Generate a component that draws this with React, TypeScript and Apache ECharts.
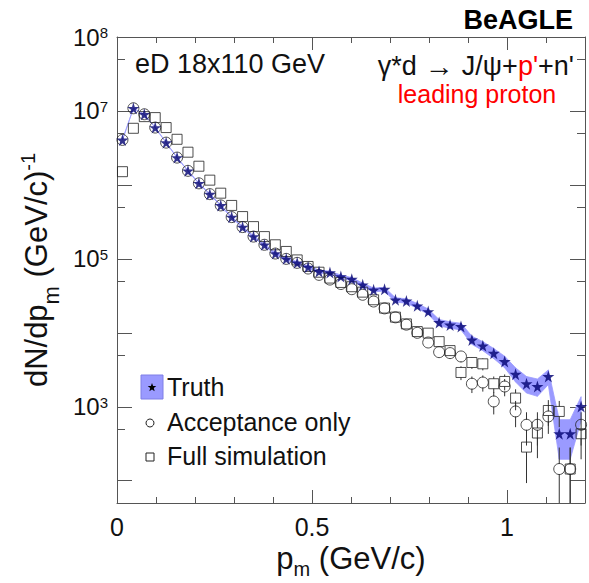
import React, { useEffect, useRef } from 'react';
import * as echarts from 'echarts';

// bin centres (GeV/c)
const pm = [0.014, 0.042, 0.070, 0.098, 0.126, 0.154, 0.182, 0.210, 0.238, 0.266, 0.294, 0.322, 0.350, 0.378, 0.406, 0.434, 0.462, 0.490, 0.518, 0.546, 0.574, 0.602, 0.630, 0.658, 0.686, 0.714, 0.742, 0.770, 0.798, 0.826, 0.854, 0.882, 0.910, 0.938, 0.966, 0.994, 1.022, 1.050, 1.078, 1.106, 1.134, 1.162, 1.190];

const truth = [4.06e6, 1.087e7, 9.02e6, 5.96e6, 3.73e6, 2.34e6, 1.55e6, 1.05e6, 7.5e5, 5.28e5, 3.67e5, 2.69e5, 2.0e5, 1.55e5, 1.18e5, 1.0e5, 8.83e4, 7.73e4, 6.75e4, 6.53e4, 5.77e4, 5.32e4, 4.46e4, 3.81e4, 3.89e4, 2.79e4, 2.70e4, 2.32e4, 1.94e4, 1.38e4, 1.28e4, 1.22e4, 8.0e3, 6.67e3, 5.31e3, 4.10e3, 2.76e3, 2.05e3, 1.88e3, 2.57e3, 432, 432, 1009];
const truthErr = [22978, 37590, 34240, 27835, 22020, 17441, 14195, 11683, 9874, 8285, 6907, 5913, 5099, 4489, 3917, 3606, 3388, 3170, 2962, 2914, 2739, 2630, 2408, 2226, 2249, 1904, 1873, 1737, 1588, 1339, 1290, 1259, 1020, 931, 831, 730, 599, 516, 494, 578, 237, 237, 362];

const accept = [4.06e6, 1.087e7, 9.02e6, 5.96e6, 3.73e6, 2.34e6, 1.55e6, 1.05e6, 7.5e5, 5.28e5, 3.67e5, 2.69e5, 2.0e5, 1.55e5, 1.18e5, 1.0e5, 8.83e4, 7.4e4, 6.08e4, 5.25e4, 4.57e4, 3.89e4, 3.27e4, 2.65e4, 2.14e4, 1.62e4, 1.29e4, 1.0e4, 7.4e3, 5.48e3, 5.32e3, 4.79e3, 2.05e3, 2.13e3, 1.18e3, 1.88e3, 865, 571, 571, 740, 144, 144, 571];
const acceptErr = [22978, 37590, 34240, 27835, 22020, 17441, 14195, 11683, 9874, 8285, 6907, 5913, 5099, 4489, 3917, 3606, 3388, 3102, 2811, 2612, 2437, 2249, 2062, 1856, 1668, 1451, 1295, 1140, 981, 844, 832, 789, 516, 526, 392, 494, 335, 272, 272, 310, 137, 137, 272];

const full = [1.51e6, 5.83e6, 8.38e6, 8.13e6, 5.96e6, 4.14e6, 2.77e6, 1.79e6, 1.16e6, 7.73e5, 5.28e5, 3.73e5, 2.73e5, 2.0e5, 1.55e5, 1.26e5, 9.68e4, 7.9e4, 6.6e4, 5.5e4, 4.8e4, 4.2e4, 3.55e4, 2.8e4, 2.16e4, 1.63e4, 1.32e4, 1.04e4, 9.9e3, 7.6e3, 5.75e3, 2.91e3, 3.97e3, 3.81e3, 2.05e3, 2.2e3, 1.31e3, 285, 442, 891, 865, 144, 432];
const fullErr = [14011, 27530, 33006, 32510, 27835, 23199, 18976, 15254, 12280, 10024, 8285, 6963, 5957, 5099, 4489, 4047, 3547, 3205, 2929, 2674, 2498, 2337, 2148, 1908, 1676, 1456, 1310, 1163, 1134, 994, 865, 615, 718, 704, 516, 535, 413, 192, 240, 340, 335, 137, 237];

// axes
const xMin = 0;
const xMax = 1.2;
const xMajorTicks = [0, 0.5, 1];
const xMinorTicks = [0.1, 0.2, 0.3, 0.4, 0.6, 0.7, 0.8, 0.9, 1.1];
const yMinValue = 50;
const yMaxValue = 1e8;
const yDecadeTicks = [1e2, 1e3, 1e4, 1e5, 1e6, 1e7, 1e8];
const yLabelValues = [1e3, 1e5, 1e7, 1e8];
const yFiveTicks = [5e2, 5e3, 5e4, 5e5, 5e6, 5e7];

const legendNames = ['Truth', 'Acceptance only', 'Full simulation'];

const FONT = '"Liberation Sans", Arial, Helvetica, sans-serif';
const AX = '#555';
const TXT = '#111';
const BAND = '#9a9aff';
const L = (v: number) => Math.log10(v);
const STAR = 'path://M50,0 L61,35 L98,35 L68,57 L79,91 L50,70 L21,91 L32,57 L2,35 L39,35 Z';

function starPoints(cx: number, cy: number, R: number) {
  const pts: number[][] = [];
  for (let i = 0; i < 10; i++) {
    const r = i % 2 === 0 ? R : R * 0.42;
    const a = -Math.PI / 2 + (i * Math.PI) / 5;
    pts.push([cx + r * Math.cos(a), cy + r * Math.sin(a)]);
  }
  return pts;
}

const yTitleRich = {
  m: { fontSize: 31, lineHeight: 31, padding: [3, 0, 0, 0], verticalAlign: 'top', fontFamily: FONT, color: TXT },
  sb: { fontSize: 22, lineHeight: 22, padding: [22, 0, 0, 0], verticalAlign: 'top', fontFamily: FONT, color: TXT },
  sp: { fontSize: 20, lineHeight: 20, verticalAlign: 'top', fontFamily: FONT, color: TXT },
};
const xTitleRich = {
  m: { fontSize: 31, lineHeight: 31, verticalAlign: 'top', fontFamily: FONT, color: TXT },
  sb: { fontSize: 20, lineHeight: 20, padding: [16, 0, 0, 0], verticalAlign: 'top', fontFamily: FONT, color: TXT },
};

export default function App() {
  const ref = useRef<HTMLDivElement>(null);
  useEffect(() => {
    if (!ref.current) return;
    const chart = echarts.init(ref.current, undefined, { renderer: 'svg' });

    const xBase: any = {
      type: 'value', min: xMin, max: xMax, gridIndex: 0,
      splitLine: { show: false },
      axisLine: { show: false, onZero: false },
      axisLabel: { show: false },
      axisTick: { show: false },
    };
    const yBase: any = {
      type: 'value', min: L(yMinValue), max: L(yMaxValue), gridIndex: 0,
      splitLine: { show: false },
      axisLine: { show: false, onZero: false },
      axisLabel: { show: false },
      axisTick: { show: false },
    };
    const axLine = { show: true, onZero: false, lineStyle: { color: AX, width: 1 } };
    const tickStyle = { color: AX, width: 1 };

    const lo = truth.map((v, i) => L(Math.max(v - truthErr[i], 1)));
    const hi = truth.map((v, i) => L(v + truthErr[i]));
    const bandData = pm.slice(0, -1).map((x, i) => [x, lo[i], hi[i], pm[i + 1], lo[i + 1], hi[i + 1]]);

    const bandRender = (params: any, api: any) => {
      const p1 = api.coord([api.value(0), api.value(1)]);
      const p2 = api.coord([api.value(0), api.value(2)]);
      const p3 = api.coord([api.value(3), api.value(5)]);
      const p4 = api.coord([api.value(3), api.value(4)]);
      return {
        type: 'polygon',
        shape: { points: [p1, p2, p3, p4] },
        style: { fill: BAND, stroke: BAND, lineWidth: 0.8 },
      };
    };

    const errData = (vals: number[], errs: number[]) =>
      pm.map((x, i) => [x, L(vals[i]), L(Math.max(vals[i] - errs[i], 1)), L(vals[i] + errs[i])]);

    const errRender = (params: any, api: any) => {
      const x = api.value(0);
      const c = api.coord([x, api.value(1)]);
      const b = api.coord([x, api.value(2)]);
      const t = api.coord([x, api.value(3)]);
      const gap = 5;
      const children: any[] = [];
      if (c[1] - t[1] > gap) children.push({ type: 'line', shape: { x1: c[0], y1: t[1], x2: c[0], y2: c[1] - gap }, style: { stroke: '#333', lineWidth: 1 } });
      if (b[1] - c[1] > gap) children.push({ type: 'line', shape: { x1: c[0], y1: c[1] + gap, x2: c[0], y2: b[1] }, style: { stroke: '#333', lineWidth: 1 } });
      return { type: 'group', children };
    };

    const option: any = {
      animation: false,
      backgroundColor: '#fff',
      textStyle: { fontFamily: FONT },
      grid: { left: 117, right: 4, top: 37, bottom: 80, containLabel: false, outerBoundsMode: 'none' },
      xAxis: [
        {
          ...xBase, position: 'bottom', axisLine: axLine,
          axisTick: { show: true, inside: true, length: 13, customValues: xMajorTicks, lineStyle: tickStyle },
          axisLabel: { show: true, customValues: xMajorTicks, margin: 11, fontSize: 25, lineHeight: 25, color: TXT, fontFamily: FONT, formatter: (v: number) => String(v) },
          name: '{m|p}{sb|m}{m| (GeV/c)}', nameLocation: 'middle', nameGap: 40, nameMoveOverlap: false,
          nameTextStyle: { rich: xTitleRich },
        },
        { ...xBase, position: 'bottom', axisTick: { show: true, inside: true, length: 6, customValues: xMinorTicks, lineStyle: tickStyle } },
        { ...xBase, position: 'top', axisLine: axLine, axisTick: { show: true, inside: true, length: 13, customValues: xMajorTicks, lineStyle: tickStyle } },
        { ...xBase, position: 'top', axisTick: { show: true, inside: true, length: 6, customValues: xMinorTicks, lineStyle: tickStyle } },
      ],
      yAxis: [
        {
          ...yBase, position: 'left', axisLine: axLine,
          axisTick: { show: true, inside: true, length: 15, customValues: yDecadeTicks.map(L), lineStyle: tickStyle },
          axisLabel: {
            show: true, customValues: yLabelValues.map(L), margin: 9,
            formatter: (v: number) => `{b|10}{s|${Math.round(v)}}`,
            rich: {
              b: { fontSize: 24, lineHeight: 24, verticalAlign: 'bottom', fontFamily: FONT, color: TXT },
              s: { fontSize: 15, lineHeight: 15, padding: [0, 0, 14, 0], verticalAlign: 'top', fontFamily: FONT, color: TXT },
            },
          },
          name: '{m|dN/dp}{sb|m}{m| (GeV/c)}{sp|-1}', nameLocation: 'middle', nameGap: 52, nameRotate: 90,
          nameTextStyle: { rich: yTitleRich },
        },
        { ...yBase, position: 'left', axisTick: { show: true, inside: true, length: 8, customValues: yFiveTicks.map(L), lineStyle: tickStyle } },
        { ...yBase, position: 'right', axisLine: axLine, axisTick: { show: true, inside: true, length: 15, customValues: yDecadeTicks.map(L), lineStyle: tickStyle } },
        { ...yBase, position: 'right', axisTick: { show: true, inside: true, length: 8, customValues: yFiveTicks.map(L), lineStyle: tickStyle } },
      ],
      series: [
        { type: 'custom', name: 'band', data: bandData, renderItem: bandRender, clip: true, encode: { x: [0, 3], y: [1, 2, 4, 5] }, silent: true },
        { type: 'custom', name: 'accErr', data: errData(accept, acceptErr), renderItem: errRender, clip: true, encode: { x: 0, y: 1 }, silent: true },
        { type: 'custom', name: 'fullErr', data: errData(full, fullErr), renderItem: errRender, clip: true, encode: { x: 0, y: 1 }, silent: true },
        { type: 'scatter', name: legendNames[2], data: pm.map((x, i) => [x, L(full[i])]), symbol: 'rect', symbolSize: 10, itemStyle: { color: 'rgba(0,0,0,0)', borderColor: '#222', borderWidth: 1 } },
        { type: 'scatter', name: legendNames[1], data: pm.map((x, i) => [x, L(accept[i])]), symbol: 'circle', symbolSize: 11, itemStyle: { color: 'rgba(0,0,0,0)', borderColor: '#222', borderWidth: 1 } },
        { type: 'scatter', name: legendNames[0], data: pm.map((x, i) => [x, L(truth[i])]), symbol: STAR, symbolSize: 12, itemStyle: { color: '#000070' } },
      ],
      graphic: [
        { type: 'text', x: 573, y: 20, style: { text: 'BeAGLE', fontSize: 27, fontWeight: 'bold', fontFamily: FONT, fill: '#000', align: 'right', verticalAlign: 'middle' } },
        { type: 'text', x: 135, y: 64, style: { text: 'eD 18x110 GeV', fontSize: 27, fontFamily: FONT, fill: TXT, align: 'left', verticalAlign: 'middle' } },
        {
          type: 'text', x: 574, y: 66,
          style: {
            text: '{a|γ*d}{w| → }{a|J/ψ+}{r|p\'}{a|+n\'}', align: 'right', verticalAlign: 'middle',
            rich: {
              a: { fontSize: 27, lineHeight: 27, fontFamily: FONT, fill: TXT },
              w: { fontSize: 29, lineHeight: 27, fontFamily: FONT, fill: TXT },
              r: { fontSize: 27, lineHeight: 27, fontFamily: FONT, fill: '#ff0000' },
            },
          },
        },
        { type: 'text', x: 477, y: 94, style: { text: 'leading proton', fontSize: 25, fontFamily: FONT, fill: '#ff0000', align: 'center', verticalAlign: 'middle' } },
        // legend
        { type: 'rect', shape: { x: 141, y: 375, width: 22, height: 24 }, style: { fill: BAND, stroke: '#7f7fe6', lineWidth: 1 } },
        { type: 'polygon', shape: { points: starPoints(152, 387.5, 4.5) }, style: { fill: '#000' } },
        { type: 'text', x: 167, y: 387, style: { text: legendNames[0], fontSize: 25, fontFamily: FONT, fill: TXT, align: 'left', verticalAlign: 'middle' } },
        { type: 'circle', shape: { cx: 150, cy: 423, r: 4 }, style: { fill: 'none', stroke: '#222', lineWidth: 1 } },
        { type: 'text', x: 167, y: 422, style: { text: legendNames[1], fontSize: 25, fontFamily: FONT, fill: TXT, align: 'left', verticalAlign: 'middle' } },
        { type: 'rect', shape: { x: 146, y: 453, width: 8, height: 8 }, style: { fill: 'none', stroke: '#222', lineWidth: 1 } },
        { type: 'text', x: 167, y: 456, style: { text: legendNames[2], fontSize: 25, fontFamily: FONT, fill: TXT, align: 'left', verticalAlign: 'middle' } },
      ],
    };
    chart.setOption(option);
    return () => chart.dispose();
  }, []);
  return <div ref={ref} style={{ position: 'fixed', left: 0, top: 0, width: 589, height: 583, background: '#fff' }} />;
}
